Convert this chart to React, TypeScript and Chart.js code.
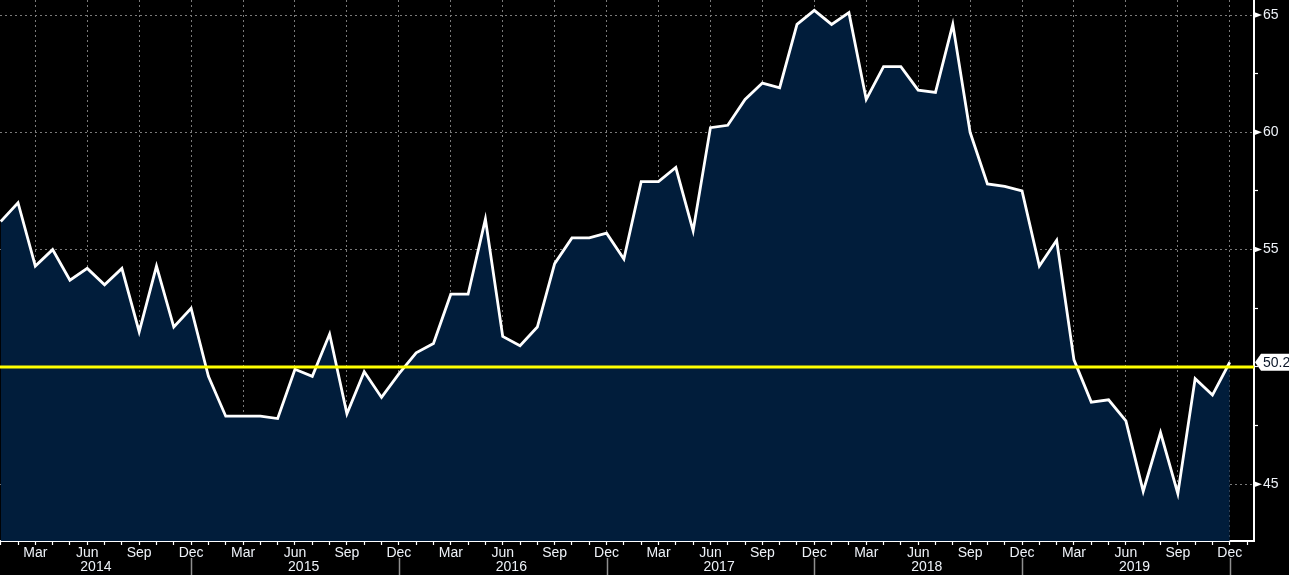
import React, { useEffect, useRef } from 'react';
import { Chart, registerables } from 'chart.js';

Chart.register(...registerables);

const YEARS = ['2014', '2015', '2016', '2017', '2018', '2019'];
const MONTHS = ['Jan', 'Feb', 'Mar', 'Apr', 'May', 'Jun', 'Jul', 'Aug', 'Sep', 'Oct', 'Nov', 'Dec'];
const LABELLED_MONTHS = [2, 5, 8, 11];

const V2014 = [56.2, 57.0, 54.3, 55.0, 53.7, 54.2, 53.5, 54.2, 51.5, 54.3, 51.7, 52.5];
const V2015 = [49.6, 47.9, 47.9, 47.9, 47.8, 49.9, 49.6, 51.4, 48.0, 49.8, 48.7, 49.7];
const V2016 = [50.6, 51.0, 53.1, 53.1, 56.3, 51.3, 50.9, 51.7, 54.4, 55.5, 55.5, 55.7];
const V2017 = [54.6, 57.9, 57.9, 58.5, 55.8, 60.2, 60.3, 61.4, 62.1, 61.9, 64.6, 65.2];
const V2018 = [64.6, 65.1, 61.4, 62.8, 62.8, 61.8, 61.7, 64.6, 60.0, 57.8, 57.7, 57.5];
const V2019 = [54.3, 55.4, 50.3, 48.5, 48.6, 47.7, 44.7, 47.2, 44.6, 49.5, 48.8, 50.2];

const VALUES = [...V2014, ...V2015, ...V2016, ...V2017, ...V2018, ...V2019];
const THRESHOLD = 50;
const Y_MAJOR = [45, 50, 55, 60, 65];

const X_MIN = -0.04;
const X_MAX = 72.4;
const Y_MIN = 42.58;
const Y_MAX = 65.64;

const FONT = "'Liberation Sans', Arial, sans-serif";
const FONT_SIZE = 14;
const TICK_COLOR = '#eef2f8';
const GRID_COLOR = '#7a7a7a';
const FILL_COLOR = '#011d3b';

export default function App() {
  const ref = useRef<HTMLCanvasElement>(null);

  useEffect(() => {
    document.body.style.margin = '0';
    document.body.style.background = '#000';
    const canvas = ref.current;
    if (!canvas) return;
    const last = VALUES[VALUES.length - 1];

    const overlay = {
      id: 'overlay',
      afterDraw(chart: any) {
        const ctx = chart.ctx;
        const xs = chart.scales.x;
        const ys = chart.scales.y;
        const area = chart.chartArea;
        ctx.save();
        // year separators and year labels
        YEARS.forEach((yr, k) => {
          const sx = Math.round(xs.getPixelForValue(12 * k + 11)) + 0.5;
          ctx.strokeStyle = '#8f8f8f';
          ctx.lineWidth = 1.5;
          ctx.beginPath();
          ctx.moveTo(sx, area.bottom + 17);
          ctx.lineTo(sx, chart.height);
          ctx.stroke();
          const mx = xs.getPixelForValue(12 * k + 5.5);
          ctx.fillStyle = TICK_COLOR;
          ctx.font = `${FONT_SIZE}px ${FONT}`;
          ctx.textAlign = 'center';
          ctx.textBaseline = 'middle';
          ctx.fillText(yr, mx, area.bottom + 26);
        });
        // triangle markers on major y ticks
        Y_MAJOR.forEach((v) => {
          if (Math.abs(v - last) < 1) return;
          const py = ys.getPixelForValue(v);
          ctx.fillStyle = '#ffffff';
          ctx.beginPath();
          ctx.moveTo(area.right, py - 3);
          ctx.lineTo(area.right + 8, py);
          ctx.lineTo(area.right, py + 3);
          ctx.closePath();
          ctx.fill();
        });
        // last value label
        const ly = ys.getPixelForValue(last);
        const tip = area.right + 1;
        const bx = area.right + 7;
        const h = 8.5;
        ctx.fillStyle = '#ffffff';
        ctx.beginPath();
        ctx.moveTo(tip, ly);
        ctx.lineTo(bx, ly - h);
        ctx.lineTo(chart.width + 2, ly - h);
        ctx.lineTo(chart.width + 2, ly + h);
        ctx.lineTo(bx, ly + h);
        ctx.closePath();
        ctx.fill();
        ctx.fillStyle = '#0b1628';
        ctx.font = `${FONT_SIZE}px ${FONT}`;
        ctx.textAlign = 'left';
        ctx.textBaseline = 'middle';
        ctx.fillText(last.toFixed(1), area.right + 9, ly + 0.5);
        ctx.restore();
      },
    };

    const chart = new Chart(canvas, {
      type: 'line',
      data: {
        datasets: [
          {
            label: 'threshold',
            data: [
              { x: X_MIN, y: THRESHOLD },
              { x: X_MAX, y: THRESHOLD },
            ],
            borderColor: '#ffff00',
            borderWidth: 3,
            pointRadius: 0,
            fill: false,
          },
          {
            label: 'index',
            data: VALUES.map((v, i) => ({ x: i, y: v })),
            borderColor: '#ffffff',
            borderWidth: 2.8,
            backgroundColor: FILL_COLOR,
            pointRadius: 0,
            fill: 'start',
            tension: 0,
          },
        ],
      },
      options: {
        responsive: false,
        animation: false,
        devicePixelRatio: 1,
        layout: { padding: 0 },
        plugins: {
          legend: { display: false },
          tooltip: { enabled: false },
        },
        scales: {
          x: {
            type: 'linear',
            min: X_MIN,
            max: X_MAX,
            afterFit: (s: any) => {
              s.height = 34;
              s.paddingLeft = 0;
              s.paddingRight = 0;
            },
            ticks: {
              stepSize: 1,
              includeBounds: false,
              autoSkip: false,
              maxRotation: 0,
              minRotation: 0,
              maxTicksLimit: 200,
              padding: 0,
              color: TICK_COLOR,
              font: { family: FONT, size: FONT_SIZE },
              callback: (value: any) => {
                const v = Number(value);
                if (!Number.isInteger(v)) return '';
                const m = ((v % 12) + 12) % 12;
                return LABELLED_MONTHS.includes(m) ? MONTHS[m] : '';
              },
            },
            grid: {
              drawTicks: true,
              tickLength: 4,
              tickColor: '#ffffff',
              tickWidth: 1.2,
              lineWidth: 1,
              color: (c: any) => {
                const v = c.tick ? c.tick.value : NaN;
                const m = ((v % 12) + 12) % 12;
                return Number.isInteger(v) && LABELLED_MONTHS.includes(m) ? GRID_COLOR : 'transparent';
              },
            },
            border: { display: true, color: '#ffffff', width: 2, dash: [2, 3] },
          },
          y: {
            type: 'linear',
            position: 'right',
            min: Y_MIN,
            max: Y_MAX,
            afterFit: (s: any) => {
              s.width = 35;
              s.paddingTop = 0;
              s.paddingBottom = 0;
            },
            ticks: {
              stepSize: 2.5,
              includeBounds: false,
              autoSkip: false,
              maxTicksLimit: 200,
              padding: 5,
              color: TICK_COLOR,
              font: { family: FONT, size: FONT_SIZE },
              callback: (value: any) => {
                const v = Number(value);
                if (Math.abs(v % 5) > 1e-6) return '';
                if (Math.abs(v - last) < 1) return '';
                return String(v);
              },
            },
            grid: {
              drawTicks: true,
              tickLength: 4,
              tickColor: '#ffffff',
              tickWidth: 1.2,
              lineWidth: 1,
              color: (c: any) => {
                const v = c.tick ? c.tick.value : NaN;
                return Math.abs(v % 5) < 1e-6 ? GRID_COLOR : 'transparent';
              },
            },
            border: { display: true, color: '#ffffff', width: 2, dash: [2, 3] },
          },
        },
      },
      plugins: [overlay],
    } as any);

    return () => chart.destroy();
  }, []);

  return (
    <div style={{ width: 1289, height: 575, background: '#000' }}>
      <canvas ref={ref} width={1289} height={575} style={{ display: 'block' }} />
    </div>
  );
}
